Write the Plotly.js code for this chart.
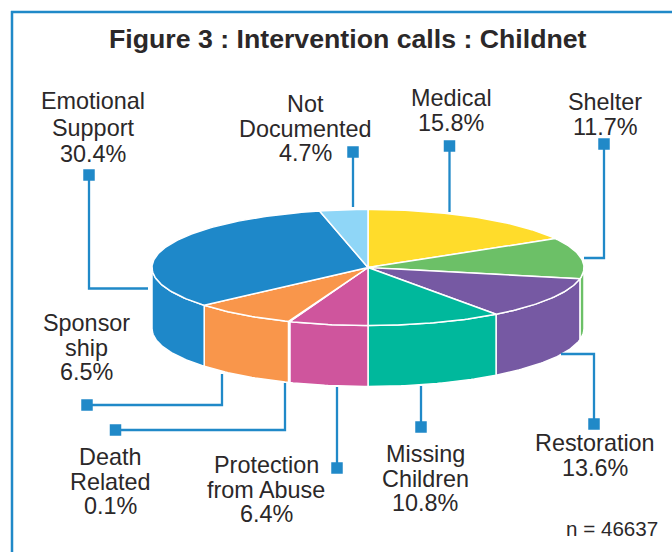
<!DOCTYPE html>
<html>
<head>
<meta charset="utf-8">
<script src="https://cdn.plot.ly/plotly-3.0.1.min.js"></script>
<style>html,body{margin:0;padding:0;background:#fff}#chart{width:672px;height:552px}</style>
</head>
<body>
<div id="chart"></div>
<script>
// Clockwise from 12 o'clock.
var categories = ["Medical","Shelter","Restoration","Missing Children","Protection from Abuse","Death Related","Sponsor ship","Emotional Support","Not Documented"];
// Percentages printed in the labels.
var printedShares = [15.8,11.7,13.6,10.8,6.4,0.1,6.5,30.4,4.7];
// Sizes of the wedges as actually drawn in the picture (they differ a little from the printed figures).
var drawnShares = [16.7,11.4,11.8,10.1,5.9,0.1,7.7,32.7,3.6];
var sliceColors = ["#ffdc2b","#6cc067","#7659a3","#00b89c","#cf559d","#f9964b","#f9964b","#1e88c9","#8fd6f7"];
var labelLines = [["Medical"],["Shelter"],["Restoration"],["Missing","Children"],["Protection","from Abuse"],["Death","Related"],["Sponsor","ship"],["Emotional","Support"],["Not","Documented"]];

// Layout of labels and leaders (pixels)
var labelX = [451,605,595,425,266,110,86,93,305];
var labelY = [98,102,443,454,465,457,323,101,104];
var labelGap = [24.6,24.6,24.6,24.6,24.6,24.6,24.6,26.5,24.6];
var leaderPaths = [
  [[449.5,146],[449.5,212]],
  [[604,144],[604,258],[584,258]],
  [[594,424],[594,354],[561,354]],
  [[421,427],[421,386]],
  [[337,468],[337,387]],
  [[115.5,430],[285,430],[285,383]],
  [[87,405],[222,405],[222,374]],
  [[89,175],[89,288.5],[148,288.5]],
  [[353,152],[353,207]]
];

var cx=368, cy=267.5, rx=216, ry=58, depth=61;
var INK="#2b2829", BLUE="#2089c8", FONT="'Liberation Sans', Arial, sans-serif";

function ptx(t){return cx+rx*Math.sin(t*Math.PI/180);}
function pty(t,d){return cy-ry*Math.cos(t*Math.PI/180)+(d||0);}
function arc(a,b,d){
  var xs=[],ys=[],n=Math.max(2,Math.ceil(Math.abs(b-a))+1);
  for(var i=0;i<n;i++){var t=a+(b-a)*i/(n-1);xs.push(ptx(t));ys.push(pty(t,d));}
  return {x:xs,y:ys};
}

var total=drawnShares.reduce(function(s,v){return s+v;},0);
var walls=[],tops=[],acc=0;
drawnShares.forEach(function(v,i){
  var a=acc/total*360,b=(acc+v)/total*360;acc+=v;
  var a2=Math.max(a,90),b2=Math.min(b,270);
  if(b2>a2){
    var up=arc(a2,b2,0),lo=arc(b2,a2,depth);
    walls.push({type:"scatter",mode:"lines",x:up.x.concat(lo.x,[up.x[0]]),y:up.y.concat(lo.y,[up.y[0]]),
      fill:"toself",fillcolor:sliceColors[i],line:{color:"#fff",width:1.5},hoverinfo:"skip",showlegend:false});
  }
  var t=arc(a,b,0);
  tops.push({type:"scatter",mode:"lines",name:categories[i],x:[cx].concat(t.x,[cx]),y:[cy].concat(t.y,[cy]),
    fill:"toself",fillcolor:sliceColors[i],line:{color:"#fff",width:1.5},hoverinfo:"name",showlegend:false});
});

var leaders=leaderPaths.map(function(p){
  return {type:"scatter",mode:"lines",x:p.map(function(q){return q[0];}),y:p.map(function(q){return q[1];}),
    line:{color:BLUE,width:2.3},hoverinfo:"skip",showlegend:false};
});
var squares={type:"scatter",mode:"markers",x:leaderPaths.map(function(p){return p[0][0];}),y:leaderPaths.map(function(p){return p[0][1];}),
  marker:{symbol:"square",size:11.5,color:BLUE},hoverinfo:"skip",showlegend:false};

var annotations=[];
function addText(x,y,text,size,bold){
  annotations.push({xref:"x",yref:"y",x:x,y:y,text:bold?"<b>"+text+"</b>":text,showarrow:false,xanchor:"center",yanchor:"middle",
    font:{family:FONT,size:size,color:INK}});
}
categories.forEach(function(c,i){
  var lines=labelLines[i].concat([printedShares[i].toFixed(1)+"%"]);
  lines.forEach(function(l,j){addText(labelX[i],labelY[i]+j*labelGap[i],l,23.4,false);});
});
addText(348,39,"Figure 3 : Intervention calls : Childnet",26.7,true);
addText(612,528,"n = 46637",20.6,false);

var layout={
  width:672,height:552,margin:{l:0,r:0,t:0,b:0},paper_bgcolor:"#fff",plot_bgcolor:"#fff",
  xaxis:{range:[0,672],visible:false,fixedrange:true},
  yaxis:{range:[552,0],visible:false,fixedrange:true},
  showlegend:false,annotations:annotations,
  shapes:[
    {type:"line",xref:"x",yref:"y",x0:12,x1:12,y0:11,y1:552,line:{color:BLUE,width:2.5}},
    {type:"line",xref:"x",yref:"y",x0:11,x1:672,y0:12,y1:12,line:{color:BLUE,width:2.5}}
  ]
};
Plotly.newPlot("chart",walls.concat(tops,leaders,[squares]),layout,{displayModeBar:false,staticPlot:true});
</script>
</body>
</html>
